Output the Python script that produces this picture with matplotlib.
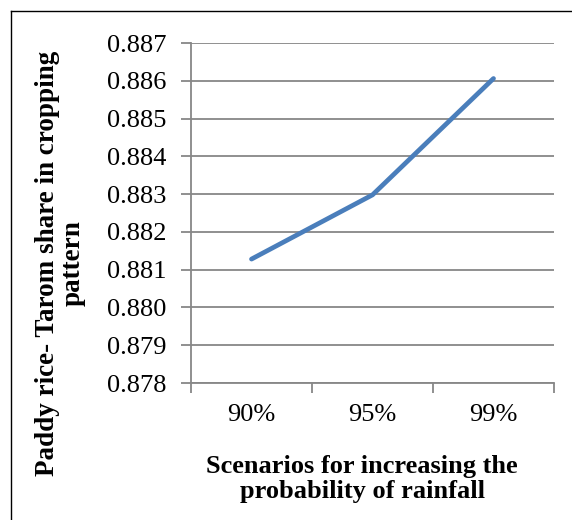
import matplotlib
matplotlib.use("Agg")
import matplotlib.pyplot as plt
from matplotlib.lines import Line2D

# data
scenarios = ["90%", "95%", "99%"]
tarom_share = [0.88128, 0.88298, 0.88606]
y_ticks = [0.878, 0.879, 0.880, 0.881, 0.882, 0.883, 0.884, 0.885, 0.886, 0.887]

plt.rcParams["font.family"] = ["Liberation Serif", "DejaVu Serif"]

W, H = 572, 520
fig = plt.figure(figsize=(W / 100, H / 100), dpi=100)
ax = fig.add_axes([191 / W, 1 - 383 / H, (554 - 191) / W, (383 - 43) / H])

grid_col = "#878787"
x = list(range(len(scenarios)))
ax.plot(x, tarom_share, color="#4A7EBB", lw=3.4, solid_capstyle="round",
        solid_joinstyle="round", zorder=3)

ax.set_xlim(-0.5, len(scenarios) - 0.5)
ax.set_ylim(y_ticks[0], y_ticks[-1])
ax.set_yticks(y_ticks)
ax.set_yticklabels([f"{v:.3f}" for v in y_ticks])
ax.set_xticks(x)
ax.set_xticklabels(scenarios)
ax.set_xticks([i - 0.5 for i in range(len(scenarios) + 1)], minor=True)

ax.grid(axis="y", color=grid_col, lw=1.3, zorder=1)
for s in ["top", "right"]:
    ax.spines[s].set_visible(False)
for s in ["left", "bottom"]:
    ax.spines[s].set_color(grid_col)
    ax.spines[s].set_linewidth(1.3)

ax.tick_params(axis="y", length=7, width=1.3, color=grid_col, pad=11, labelsize=19)
ax.tick_params(axis="x", which="major", length=0, pad=15, labelsize=19)
ax.tick_params(axis="x", which="minor", length=7, width=1.3, color=grid_col)

fig.text(60 / W, 1 - 263 / H, "Paddy rice- Tarom share in cropping\npattern",
         rotation=90, ha="center", va="center", fontsize=19.5,
         fontweight="bold", linespacing=1.05)
fig.text(362 / W, 1 - 479 / H, "Scenarios for increasing the\nprobability of rainfall",
         ha="center", va="center", fontsize=19, fontweight="bold",
         linespacing=1.1)

# chart frame (only the left and top edges fall inside the picture)
fig.add_artist(Line2D([11 / W, 11 / W], [0, 1 - 11 / H], transform=fig.transFigure,
                      color="black", lw=1.0))
fig.add_artist(Line2D([11 / W, 1], [1 - 11 / H, 1 - 11 / H], transform=fig.transFigure,
                      color="black", lw=1.0))

fig.savefig("out.png", dpi=100)
